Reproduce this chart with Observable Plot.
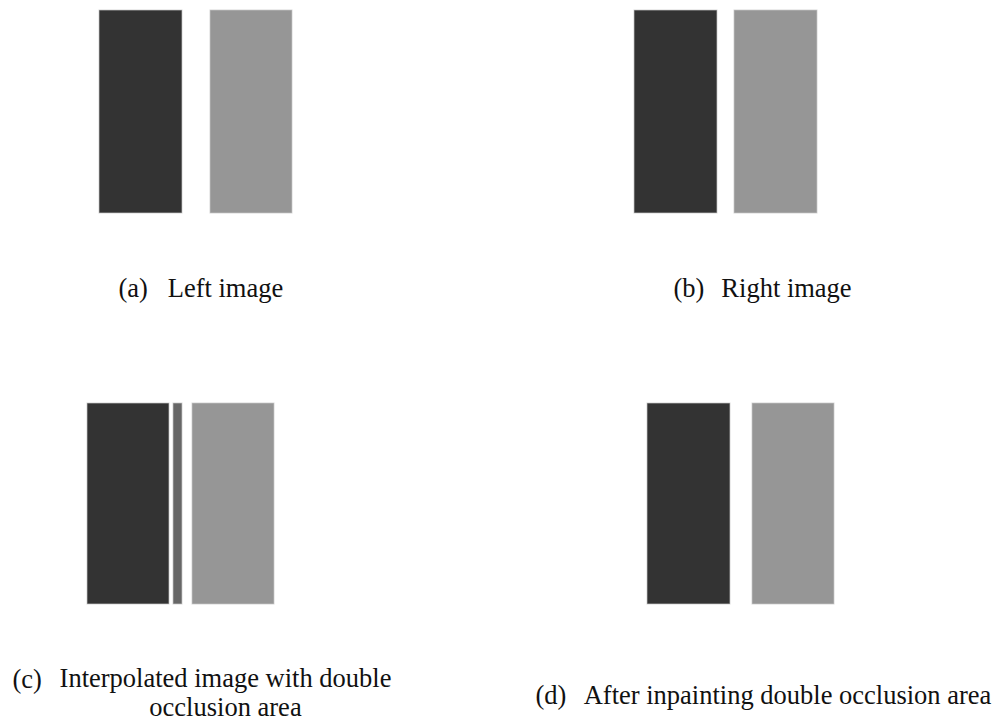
<!DOCTYPE html>
<html>
<head>
<meta charset="utf-8">
<script src="https://cdn.jsdelivr.net/npm/d3@7"></script>
<script src="https://cdn.jsdelivr.net/npm/@observablehq/plot@0.6"></script>
<style>
  html, body { margin: 0; padding: 0; background: #fff; }
  #chart { width: 1001px; height: 722px; }
</style>
</head>
<body>
<div id="chart"></div>
<script>
// ---- Data: four sub-images, each made of vertical gray bars (figure column units) ----
const panels = ["a", "b", "c", "d"];
const panelTop = [10, 10, 403, 403];      // top row of each sub-image
const panelBottom = [213, 213, 604, 604]; // bottom row of each sub-image

const barPanel = ["a", "a", "b", "b", "c", "c", "c", "d", "d"];
const barStart = [99, 210, 634, 734, 87, 173, 192, 647, 752];
const barEnd   = [182, 292, 717, 817, 169, 182, 274, 730, 834];
const barShade = ["dark", "light", "dark", "light", "dark", "mid", "light", "dark", "light"];

const shadeNames = ["dark", "mid", "light"];
const shadeColors = ["#333333", "#676767", "#969696"];

// ---- Captions ----
const captionLabel = ["(a)", "(b)", "(c)", "(d)"];
const captionText = [
  "Left image",
  "Right image",
  "Interpolated image with double\nocclusion area",
  "After inpainting double occlusion area"
];
const labelX = [118, 673, 12, 535];
const labelY = [296, 296, 687, 703];
const textCenterX = [225, 786, 225, 787];
const textY = [296, 296, 715, 703];

// ---- Build tables ----
const bars = barPanel.map((p, i) => {
  const k = panels.indexOf(p);
  return {panel: p, x1: barStart[i], x2: barEnd[i], y1: panelTop[k], y2: panelBottom[k], shade: barShade[i]};
});
const captions = panels.map((p, i) => ({
  panel: p, label: captionLabel[i], text: captionText[i],
  lx: labelX[i], ly: labelY[i], tx: textCenterX[i], ty: textY[i]
}));

const font = "'Liberation Serif', 'Times New Roman', Times, serif";

const chart = Plot.plot({
  width: 1001,
  height: 722,
  margin: 0,
  x: {domain: [0, 1001], range: [0, 1001], axis: null},
  y: {domain: [0, 722], range: [0, 722], axis: null},
  color: {domain: shadeNames, range: shadeColors},
  style: {background: "#fff", fontFamily: font},
  marks: [
    Plot.rect(bars, {
      x1: "x1", x2: "x2", y1: "y1", y2: "y2",
      fill: "shade",
      stroke: "#c8c8c8", strokeWidth: 1, strokeOpacity: 0.7
    }),
    Plot.text(captions, {
      x: "lx", y: "ly", text: "label",
      textAnchor: "start", lineAnchor: "bottom",
      fontSize: 26.5, fill: "#111"
    }),
    Plot.text(captions, {
      x: "tx", y: "ty", text: "text",
      textAnchor: "middle", lineAnchor: "bottom", lineHeight: 1.06,
      fontSize: 26.5, fill: "#111"
    })
  ]
});
document.getElementById("chart").appendChild(chart);
</script>
</body>
</html>
